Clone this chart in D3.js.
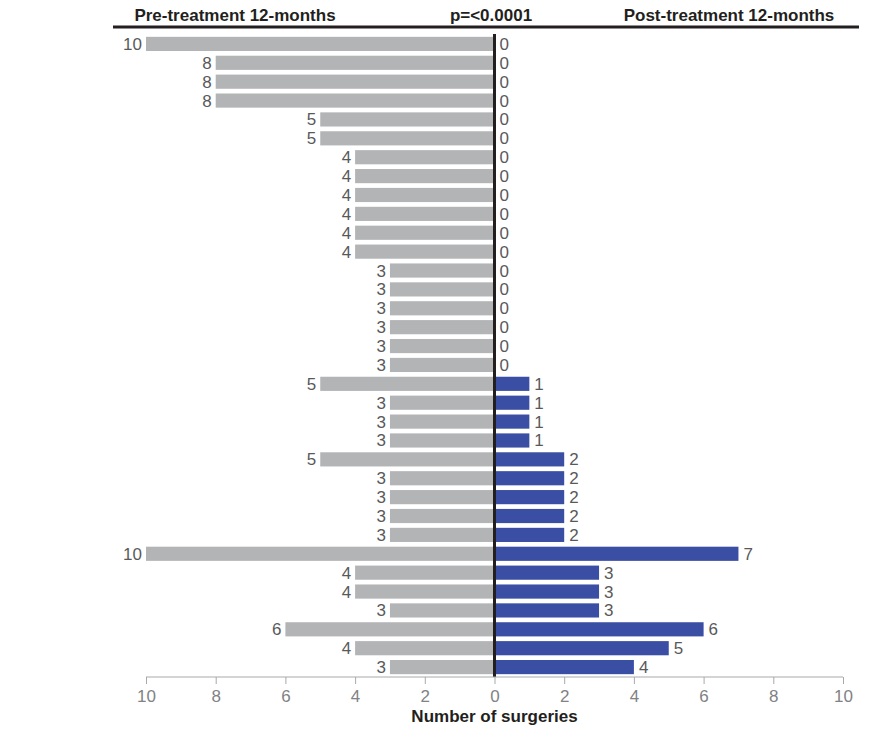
<!DOCTYPE html>
<html>
<head>
<meta charset="utf-8">
<script src="https://cdn.jsdelivr.net/npm/d3@7"></script>
<style>
body{margin:0;background:#fff;}
text{font-family:"Liberation Sans Narrow","Arial Narrow","Liberation Sans",Arial,sans-serif;}
</style>
</head>
<body>
<div id="chart"></div>
<script>
var pre = [10,8,8,8,5,5,4,4,4,4,4,4,3,3,3,3,3,3,5,3,3,3,5,3,3,3,3,10,4,4,3,6,4,3];
var post = [0,0,0,0,0,0,0,0,0,0,0,0,0,0,0,0,0,0,1,1,1,1,2,2,2,2,2,7,3,3,3,6,5,4];
var ticks = [-10,-8,-6,-4,-2,0,2,4,6,8,10];
var rows = pre.map((d,i)=>i);

var svgWidth = 872, svgHeight = 755;
var svg = d3.select("#chart").append("svg")
    .attr("width", svgWidth).attr("height", svgHeight);

var x = d3.scaleLinear().domain([-10,10]).range([146,843]);
var y = d3.scaleBand().domain(rows).range([34,677]).paddingInner(0.25).paddingOuter(0.15);

// header
svg.append("line").attr("x1",113).attr("x2",859).attr("y1",27).attr("y2",27)
    .attr("stroke","#231f20").attr("stroke-width",3);
var head = [["Pre-treatment 12-months",235],["p=<0.0001",491],["Post-treatment 12-months",729]];
svg.selectAll(".head").data(head).enter().append("text")
    .attr("x",d=>d[1]).attr("y",21).attr("text-anchor","middle")
    .attr("font-size","17px").attr("font-weight","bold").attr("fill","#231f20")
    .text(d=>d[0]);

// bars
svg.selectAll(".pre").data(pre).enter().append("rect")
    .attr("x",d=>x(-d)).attr("y",(d,i)=>y(i))
    .attr("width",d=>x(0)-x(-d)).attr("height",y.bandwidth())
    .attr("fill","#b3b4b6");
svg.selectAll(".post").data(post).enter().append("rect")
    .attr("x",x(0)).attr("y",(d,i)=>y(i))
    .attr("width",d=>x(d)-x(0)).attr("height",y.bandwidth())
    .attr("fill","#3a4ea3");

// value labels
svg.selectAll(".prelab").data(pre).enter().append("text")
    .attr("x",d=>x(-d)-4).attr("y",(d,i)=>y(i)+y.bandwidth()/2+6)
    .attr("text-anchor","end").attr("font-size","17px").attr("fill","#58595b")
    .text(d=>d);
svg.selectAll(".postlab").data(post).enter().append("text")
    .attr("x",d=>x(d)+5).attr("y",(d,i)=>y(i)+y.bandwidth()/2+6)
    .attr("font-size","17px").attr("fill","#58595b")
    .text(d=>d);

// center line
svg.append("line").attr("x1",x(0)).attr("x2",x(0)).attr("y1",34).attr("y2",677)
    .attr("stroke","#231f20").attr("stroke-width",3);

// x axis
var axis = d3.axisBottom(x).tickValues(ticks).tickFormat(d=>Math.abs(d)).tickSize(7).tickPadding(6);
var g = svg.append("g").attr("transform","translate(0,677)").call(axis);
g.select(".domain").attr("stroke","#a7a9ac").attr("d","M"+x(-10)+",0H"+x(10));
g.selectAll(".tick line").attr("stroke","#a7a9ac");
g.selectAll(".tick text").attr("fill","#808285").attr("font-size","17px")
    .attr("font-family","'Liberation Sans Narrow','Arial Narrow','Liberation Sans',Arial,sans-serif");

svg.append("text").attr("x",x(0)).attr("y",722).attr("text-anchor","middle")
    .attr("font-size","17px").attr("font-weight","bold").attr("fill","#231f20")
    .text("Number of surgeries");
</script>
</body>
</html>
